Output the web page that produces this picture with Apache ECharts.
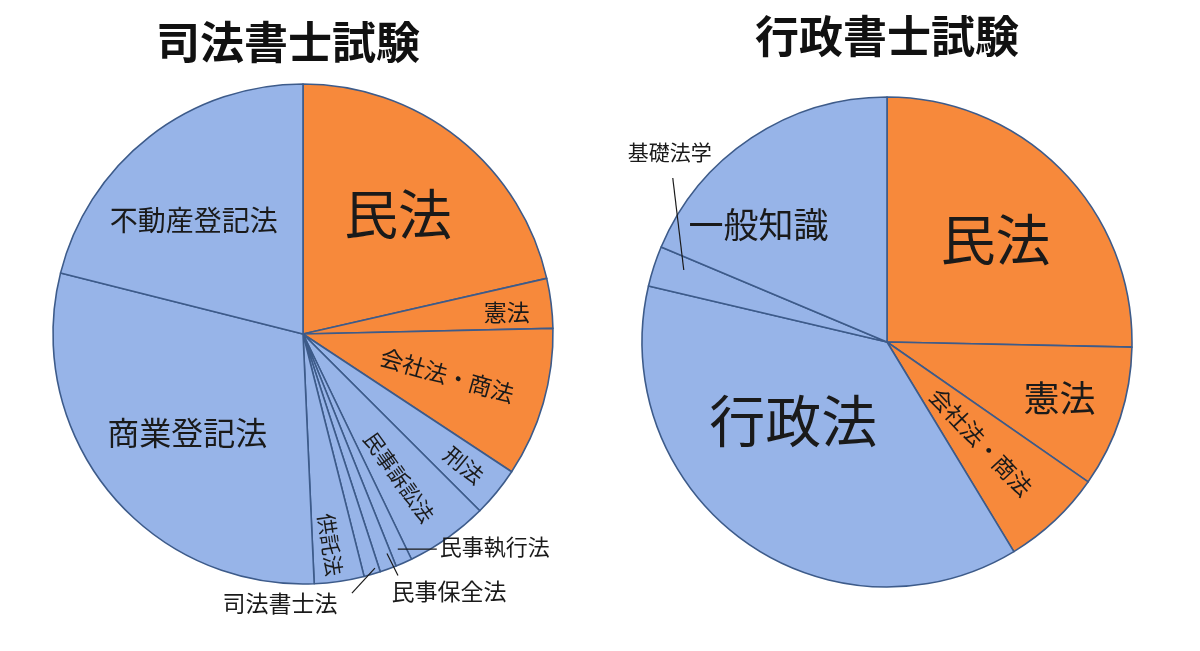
<!DOCTYPE html>
<html>
<head>
<meta charset="utf-8">
<script src="https://cdn.jsdelivr.net/npm/echarts@6/dist/echarts.min.js"></script>
<style>
html, body { margin: 0; padding: 0; background: #fff; }
#main { width: 1200px; height: 651px; }
</style>
</head>
<body>
<div id="main"></div>
<script>
// 配点（司法書士試験・行政書士試験）
var shihoNames = ['民法', '憲法', '会社法・商法', '刑法', '民事訴訟法', '民事執行法', '民事保全法', '司法書士法', '供託法', '商業登記法', '不動産登記法'];
var shihoPoints = [60, 9, 27, 9, 15, 3, 3, 3, 9, 83, 59];

var gyoseiNames = ['民法', '憲法', '会社法・商法', '行政法', '基礎法学', '一般知識'];
var gyoseiPoints = [76, 28, 20, 112, 8, 56];

// 両方の試験に共通する科目（オレンジ）
var commonSubjects = ['民法', '憲法', '会社法・商法'];

var FONT = '"Noto Sans CJK JP", "Noto Sans CJK SC", sans-serif';
var ORANGE = '#F7893B';
var BLUE = '#97B4E8';

// ラベルの置き方  at: 半径に対する割合, turn: 角度の微調整(度), line: 引き出し線
var shihoSpots = {
	'民法': { at: 0.61, size: 54 },
	'憲法': { at: 0.82, turn: 1, size: 23 },
	'会社法・商法': { at: 0.6, size: 23, radial: true },
	'刑法': { at: 0.83, size: 22, radial: true },
	'民事訴訟法': { at: 0.69, turn: 1.5, size: 21, radial: true },
	'民事執行法': { at: 0.94, size: 22, line: [39, 0], text: [3, -2], align: 'left' },
	'民事保全法': { at: 0.94, turn: -1, size: 23, line: [11, 22], text: [51, 16] },
	'司法書士法': { at: 0.98, turn: -1, size: 23, line: [-23, 25], text: [-72, 10] },
	'供託法': { at: 0.85, turn: 1, size: 21, radial: true },
	'商業登記法': { at: 0.61, turn: -1.4, size: 32 },
	'不動産登記法': { at: 0.63, turn: -6, size: 28 }
};
var gyoseiSpots = {
	'民法': { at: 0.61, turn: 1, size: 55 },
	'憲法': { at: 0.74, size: 36 },
	'会社法・商法': { at: 0.56, size: 23, radial: true },
	'行政法': { at: 0.5, turn: 14, size: 56 },
	'基礎法学': { at: 0.88, turn: 1.5, size: 21, line: [-11, -92], text: [-3, -26] },
	'一般知識': { at: 0.71, turn: -14, size: 35 }
};

var chart = echarts.init(document.getElementById('main'));

// 扇形（色つき）
function sliceData(names, points) {
	var list = [];
	for (var i = 0; i < names.length; i++) {
		list.push({
			name: names[i],
			value: points[i],
			itemStyle: { color: commonSubjects.indexOf(names[i]) >= 0 ? ORANGE : BLUE }
		});
	}
	return list;
}
// ラベル用（透明な扇形を上に重ねる → 引き出し線が隠れない）
function labelData(names, points, spots) {
	var list = [];
	for (var i = 0; i < names.length; i++) {
		var spot = spots[names[i]];
		list.push({
			name: names[i],
			value: points[i],
			label: { fontSize: spot.size, position: spot.line ? 'outside' : 'inside' },
			labelLine: { show: !!spot.line }
		});
	}
	return list;
}

function placeLabel(names, spots, params) {
	var seriesModel = chart.getModel().getSeriesByIndex(params.seriesIndex);
	var lay = seriesModel.getData().getItemLayout(params.dataIndex);
	var spot = spots[names[params.dataIndex]];
	var mid = (lay.startAngle + lay.endAngle) / 2;
	var a = mid + (spot.turn || 0) * Math.PI / 180;
	var px = lay.cx + lay.r * spot.at * Math.cos(a);
	var py = lay.cy + lay.r * spot.at * Math.sin(a);
	if (!spot.line) {
		var rot = 0;
		if (spot.radial) {
			rot = (Math.cos(mid) < 0 ? Math.PI - mid : -mid) * 180 / Math.PI;
		}
		return { x: px, y: py, align: 'center', verticalAlign: 'middle', rotate: rot };
	}
	var ex = px + spot.line[0];
	var ey = py + spot.line[1];
	return {
		x: ex + spot.text[0],
		y: ey + spot.text[1],
		align: spot.align || 'center',
		verticalAlign: 'middle',
		rotate: 0,
		labelLinePoints: [[px, py], [ex, ey], [ex, ey]]
	};
}

function pieSeries(names, points, spots, center, radius) {
	var base = {
		type: 'pie',
		z: 2,
		center: center,
		radius: radius,
		startAngle: 90,
		clockwise: true,
		animation: false,
		silent: true,
		itemStyle: { borderColor: '#3D5B8A', borderWidth: 1.6 },
		label: { show: false },
		labelLine: { show: false },
		data: sliceData(names, points)
	};
	var labels = {
		type: 'pie',
		z: 5,
		center: center,
		radius: radius,
		startAngle: 90,
		clockwise: true,
		animation: false,
		silent: true,
		avoidLabelOverlap: false,
		itemStyle: { color: 'rgba(0,0,0,0)', borderWidth: 0 },
		label: { show: true, color: '#1a1a1a', fontFamily: FONT, fontWeight: 'normal' },
		labelLine: { showAbove: true, lineStyle: { color: '#1a1a1a', width: 1.2 } },
		labelLayout: function (params) { return placeLabel(names, spots, params); },
		data: labelData(names, points, spots)
	};
	return [base, labels];
}

var option = {
	backgroundColor: '#fff',
	title: [
		{
			text: '司法書士試験', left: 288, top: 20, textAlign: 'center', padding: 0,
			textStyle: { fontSize: 44, fontWeight: 'bold', color: '#111', fontFamily: FONT }
		},
		{
			text: '行政書士試験', left: 887, top: 14, textAlign: 'center', padding: 0,
			textStyle: { fontSize: 44, fontWeight: 'bold', color: '#111', fontFamily: FONT }
		}
	],
	series: pieSeries(shihoNames, shihoPoints, shihoSpots, [303, 334], 250)
		.concat(pieSeries(gyoseiNames, gyoseiPoints, gyoseiSpots, [887, 342], 245))
};
chart.setOption(option);
</script>
</body>
</html>
